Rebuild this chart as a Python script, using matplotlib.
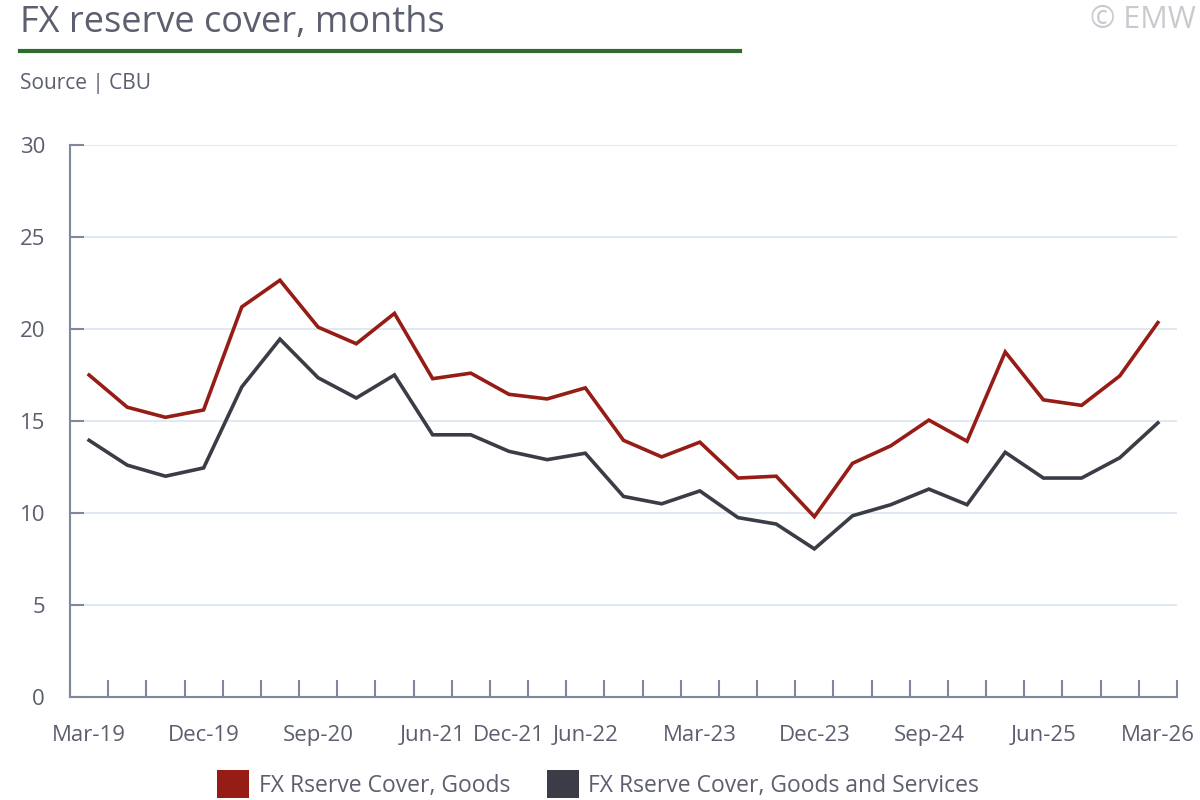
import matplotlib
matplotlib.use('Agg')
import matplotlib.pyplot as plt
from matplotlib.lines import Line2D
from matplotlib.patches import Patch

quarters = ['Mar-19', 'Jun-19', 'Sep-19', 'Dec-19', 'Mar-20', 'Jun-20', 'Sep-20', 'Dec-20',
            'Mar-21', 'Jun-21', 'Sep-21', 'Dec-21', 'Mar-22', 'Jun-22', 'Sep-22', 'Dec-22',
            'Mar-23', 'Jun-23', 'Sep-23', 'Dec-23', 'Mar-24', 'Jun-24', 'Sep-24', 'Dec-24',
            'Mar-25', 'Jun-25', 'Sep-25', 'Dec-25', 'Mar-26']
goods = [17.5, 15.75, 15.2, 15.6, 21.2, 22.65, 20.1, 19.2, 20.85, 17.3, 17.6, 16.45,
         16.2, 16.8, 13.95, 13.05, 13.85, 11.9, 12.0, 9.8, 12.7, 13.65, 15.05, 13.9,
         18.75, 16.15, 15.85, 17.45, 20.35]
goods_services = [13.95, 12.6, 12.0, 12.45, 16.85, 19.45, 17.35, 16.25, 17.5, 14.25, 14.25, 13.35,
                  12.9, 13.25, 10.9, 10.5, 11.2, 9.75, 9.4, 8.05, 9.85, 10.45, 11.3, 10.45,
                  13.3, 11.9, 11.9, 13.0, 14.9]
label_quarters = ['Mar-19', 'Dec-19', 'Sep-20', 'Jun-21', 'Dec-21', 'Jun-22', 'Mar-23',
                  'Dec-23', 'Sep-24', 'Jun-25', 'Mar-26']
y_ticks = [0, 5, 10, 15, 20, 25, 30]

RED = '#961d16'
DARK = '#3b3d46'
TXT = '#5b5f6e'
AXC = '#7f889a'
GRID = '#dde6f0'

plt.rcParams['font.family'] = ['Open Sans', 'DejaVu Sans']

fig = plt.figure(figsize=(12, 8), dpi=100)
ax = fig.add_axes([70 / 1200, 1 - 697 / 800, 1107 / 1200, 552 / 800])

x = list(range(len(quarters)))
ax.plot(x, goods, color=RED, lw=2.6, solid_joinstyle='miter')
ax.plot(x, goods_services, color=DARK, lw=2.6, solid_joinstyle='miter')

ax.set_xlim(-0.5, len(quarters) - 0.5)
ax.set_ylim(0, 30)
ax.set_yticks(y_ticks)
ax.set_yticklabels([str(v) for v in y_ticks])
for v in y_ticks[1:]:
    ax.axhline(v, color=GRID, lw=1.3, zorder=0)

# category boundary ticks
ax.set_xticks([i - 0.5 for i in range(len(quarters) + 1)])
ax.set_xticklabels([])
ax.set_xticks([quarters.index(q) for q in label_quarters], minor=True)
ax.set_xticklabels(label_quarters, minor=True)

ax.tick_params(axis='x', which='major', direction='in', length=12, width=1.5, color=AXC)
ax.tick_params(axis='x', which='minor', length=0, pad=20, labelsize=16, labelcolor=TXT)
ax.tick_params(axis='y', direction='in', length=10, width=1.5, color=AXC, pad=18,
               labelsize=16, labelcolor=TXT)

for s in ['top', 'right']:
    ax.spines[s].set_visible(False)
for s in ['left', 'bottom']:
    ax.spines[s].set_color(AXC)
    ax.spines[s].set_linewidth(1.5)

fig.text(20 / 1200, 1 - 23 / 800, 'FX reserve cover, months', fontsize=26, color=TXT,
         va='center', ha='left')
fig.add_artist(Line2D([20 / 1200, 740 / 1200], [1 - 51 / 800, 1 - 51 / 800],
                      color='#2f6b2d', lw=3))
fig.text(20 / 1200, 1 - 83 / 800, 'Source | CBU', fontsize=15, color=TXT,
         va='center', ha='left')
fig.text(1196 / 1200, 1 - 20 / 800, '© EMW', fontsize=22, color='#c9cacf',
         va='center', ha='right')

handles = [Patch(facecolor=RED, edgecolor='none'), Patch(facecolor=DARK, edgecolor='none')]
leg = fig.legend(handles, ['FX Rserve Cover, Goods', 'FX Rserve Cover, Goods and Services'],
                 loc='center', bbox_to_anchor=(598 / 1200, 1 - 784 / 800), ncol=2,
                 frameon=False, fontsize=16.5, handlelength=1.4, handleheight=1.5,
                 handletextpad=0.4, columnspacing=1.6)
for t in leg.get_texts():
    t.set_color(TXT)

fig.savefig('out.png', dpi=100)
